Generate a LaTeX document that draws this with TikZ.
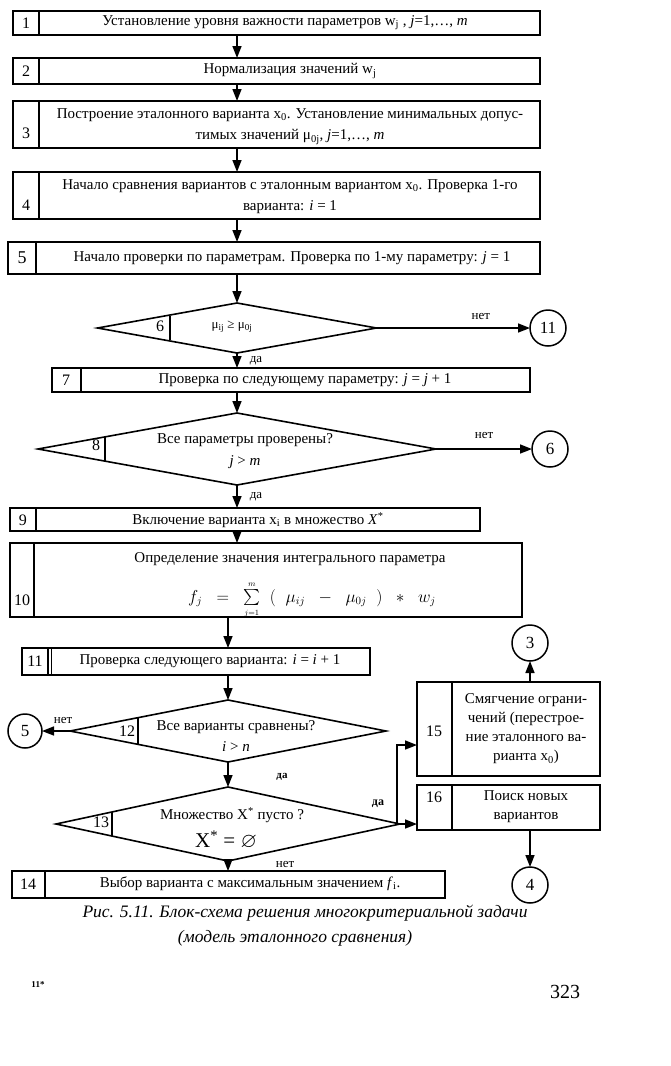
\documentclass[tikz,border=0pt]{standalone}
\usepackage{amssymb}
\usepackage{fontspec}
\setmainfont{Liberation Serif}
\usetikzlibrary{arrows.meta,shapes.geometric}
\newcommand\myfs[2]{\fontsize{#1}{#2}\selectfont}
\begin{document}
\begin{tikzpicture}[x=1pt,y=-1pt,
 ln/.style={line width=1.6pt},
 blk/.style={draw,line width=1.6pt,inner sep=0,outer sep=0,anchor=north west},
 dia/.style={draw,diamond,line width=1.6pt,inner sep=0,outer sep=0},
 circ/.style={draw,circle,line width=1.5pt,minimum size=36pt,inner sep=0,outer sep=0,font=\myfs{17}{19}},
 arr/.style={line width=1.6pt,-{Triangle[length=12pt,width=9pt]}},
 tx/.style={inner sep=0,font=\myfs{15}{20},align=center},
 num/.style={inner sep=0,font=\myfs{16}{18}},
 lb/.style={inner sep=0,font=\myfs{13}{15}},
]
\useasboundingbox (0,0) rectangle (671,1066);
\coordinate (ax) at (237,0);
\coordinate (ax2) at (228,0);

% box 1
\node[blk,minimum width=527pt,minimum height=24pt] (b1) at (13,11) {};
\draw[ln] (39,11) -- (39,35);
\node[num] (n1) at (26,23) {1};
\node[tx] (t1) at (285,23) {Установление уровня важности параметров w\textsubscript{j} , \textit{j}=1,…, \textit{m}};
% box 2
\node[blk,minimum width=527pt,minimum height=26pt] (b2) at (13,58) {};
\draw[ln] (39,58) -- (39,84);
\node[num] (n2) at (26,71) {2};
\node[tx] (t2) at (290,71) {Нормализация значений w\textsubscript{j}};
% box 3
\node[blk,minimum width=527pt,minimum height=47pt] (b3) at (13,101) {};
\draw[ln] (39,101) -- (39,148);
\node[num] (n3) at (26,133) {3};
\node[tx] (t3a) at (290,115) {Построение эталонного варианта x\textsubscript{0}. Установление минимальных допус-};
\node[tx] (t3b) at (290,137) {тимых значений μ\textsubscript{0j}, \textit{j}=1,…, \textit{m}};
% box 4
\node[blk,minimum width=527pt,minimum height=47pt] (b4) at (13,172) {};
\draw[ln] (39,172) -- (39,219);
\node[num] (n4) at (26,205) {4};
\node[tx] (t4a) at (290,186) {Начало сравнения вариантов с эталонным вариантом x\textsubscript{0}. Проверка 1-го};
\node[tx] (t4b) at (290,207) {варианта: \textit{i} = 1};
% box 5
\node[blk,minimum width=532pt,minimum height=32pt] (b5) at (8,242) {};
\draw[ln] (36,242) -- (36,274);
\node[num,font=\myfs{18}{20}] (n5) at (22,258) {5};
\node[tx] (t5) at (292,258) {Начало проверки по параметрам. Проверка по 1-му параметру: \textit{j} = 1};

% diamond 6
\node[dia,minimum width=279pt,minimum height=50pt] (d6) at (237,328) {};
\draw[ln] (170,316) -- (170,340);
\node[num] (n6) at (160,326) {6};
\node[tx,font=\myfs{13}{15}] (t6) at (232,327) {μ\textsubscript{ij} ≥ μ\textsubscript{0j}};
\node[circ] (c11) at (548,328) {11};

% box 7
\node[blk,minimum width=478pt,minimum height=24pt] (b7) at (52,368) {};
\draw[ln] (81,368) -- (81,392);
\node[num] (n7) at (66,380) {7};
\node[tx] (t7) at (305,380) {Проверка по следующему параметру: \textit{j} = \textit{j} + 1};

% diamond 8
\node[dia,minimum width=398pt,minimum height=72pt] (d8) at (237,449) {};
\draw[ln] (105,437) -- (105,461);
\node[num] (n8) at (96,445) {8};
\node[tx] (t8a) at (245,440) {Все параметры проверены?};
\node[tx] (t8b) at (245,462) {\textit{j} > \textit{m}};
\node[circ] (c6) at (550,449) {6};

% box 9
\node[blk,minimum width=470pt,minimum height=23pt] (b9) at (10,508) {};
\draw[ln] (36,508) -- (36,531);
\node[num] (n9) at (23,520) {9};
\node[tx] (t9) at (258,520) {Включение варианта x\textsubscript{i} в множество \textit{X}\textsuperscript{*}};

% box 10
\node[blk,minimum width=512pt,minimum height=74pt] (b10) at (10,543) {};
\draw[ln] (34,543) -- (34,617);
\node[num] (n10) at (22,600) {10};
\node[tx] (t10a) at (290,559) {Определение значения интегрального параметра};
\node[tx,font=\myfs{16}{18}] (t10b) at (312,600) {$f_{j}\;\;=\;\;\sum\limits_{\scriptscriptstyle j=1}^{\scriptscriptstyle m}\;\;(\;\;\mu_{ij}\;\;-\;\;\mu_{0j}\;\;)\;\;*\;\;w_{j}$};

% box 11
\node[blk,minimum width=348pt,minimum height=27pt] (b11) at (22,648) {};
\draw[ln] (48,648) -- (48,675);
\draw[line width=0.8pt] (51,648) -- (51,675);
\node[num] (n11) at (35,661) {11};
\node[tx] (t11) at (210,661) {Проверка следующего варианта: \textit{i} = \textit{i} + 1};

% diamond 12
\node[dia,minimum width=316pt,minimum height=62pt] (d12) at (228,731) {};
\draw[ln] (138,717) -- (138,745);
\node[num] (n12) at (127,731) {12};
\node[tx] (t12a) at (236,727) {Все варианты сравнены?};
\node[tx] (t12b) at (236,747) {\textit{i} > \textit{n}};
\node[circ,minimum size=34pt] (c5) at (25,731) {5};

% diamond 13
\node[dia,minimum width=344pt,minimum height=74pt] (d13) at (228,824) {};
\draw[ln] (112,812) -- (112,836);
\node[num] (n13) at (101,822) {13};
\node[tx] (t13a) at (232,815) {Множество X\textsuperscript{*} пусто ?};
\node[tx,font=\myfs{21}{23}] (t13b) at (226,840) {X\textsuperscript{*} = $\varnothing$};

% box 14
\node[blk,minimum width=433pt,minimum height=27pt] (b14) at (12,871) {};
\draw[ln] (45,871) -- (45,898);
\node[num] (n14) at (28,884) {14};
\node[tx] (t14) at (250,884) {Выбор варианта с максимальным значением \textit{f}\textsubscript{i}.};

% box 15
\node[blk,minimum width=183pt,minimum height=94pt] (b15) at (417,682) {};
\draw[ln] (452,682) -- (452,776);
\node[num] (n15) at (434,731) {15};
\node[tx,font=\myfs{15}{19}] (t15) at (526,729) {Смягчение ограни-\\чений (перестрое-\\ние эталонного ва-\\рианта x\textsubscript{0})};
\node[circ] (c3) at (530,643) {3};

% box 16
\node[blk,minimum width=183pt,minimum height=45pt] (b16) at (417,785) {};
\draw[ln] (452,785) -- (452,830);
\node[num] (n16) at (434,797) {16};
\node[tx,font=\myfs{15}{19}] (t16) at (526,807) {Поиск новых\\вариантов};
\node[circ] (c4) at (530,885) {4};

% connectors
\draw[arr] (b1.south -| ax) -- (b2.north -| ax);
\draw[arr] (b2.south -| ax) -- (b3.north -| ax);
\draw[arr] (b3.south -| ax) -- (b4.north -| ax);
\draw[arr] (b4.south -| ax) -- (b5.north -| ax);
\draw[arr] (b5.south -| ax) -- (d6.north);
\draw[arr] (d6.east) -- (c11.west) node[lb,pos=0.68,above=8pt] (l6n) {нет};
\draw[arr] (d6.south) -- (b7.north -| ax) node[lb,midway,right=12pt] (l6y) {да};
\draw[arr] (b7.south -| ax) -- (d8.north);
\draw[arr] (d8.east) -- (c6.west) node[lb,pos=0.5,above=10pt] (l8n) {нет};
\draw[arr] (d8.south) -- (b9.north -| ax) node[lb,midway,right=12pt] (l8y) {да};
\draw[arr] (b9.south -| ax) -- (b10.north -| ax);
\draw[arr] (b10.south -| ax2) -- (b11.north -| ax2);
\draw[arr] (b11.south -| ax2) -- (d12.north);
\draw[arr] (d12.west) -- (c5.east) node[lb,pos=0.25,above=7pt] (l12n) {нет};
\draw[arr] (d12.south) -- (d13.north);
\node[lb,font=\myfs{11}{13}\bfseries] (l12y) at (282,777) {да};
\coordinate (j) at (397,824);
\draw[arr] (d13.east) -- (b16.west |- d13.east);
\draw[arr] (j) |- ([yshift=-16pt]b15.west);
\node[lb,font=\myfs{12}{14}\bfseries] (l13y) at (378,804) {да};
\draw[arr] (d13.south) -- (b14.north -| d13.south);
\node[lb] (l13n) at (285,864) {нет};
\draw[arr] (b15.north -| c3) -- (c3.south);
\draw[arr] (b16.south -| c4) -- (c4.north);

% caption
\node[inner sep=0,font=\myfs{17.5}{20}\itshape] (cap1) at (305,913) {Рис. 5.11. Блок-схема решения многокритериальной задачи};
\node[inner sep=0,font=\myfs{17.5}{20}\itshape] (cap2) at (295,938) {(модель эталонного сравнения)};
\node[inner sep=0,font=\myfs{9}{10}\bfseries] (sig) at (38,985) {11*};
\node[inner sep=0,font=\myfs{20}{22}] (page) at (565,992) {323};
\end{tikzpicture}
\end{document}
